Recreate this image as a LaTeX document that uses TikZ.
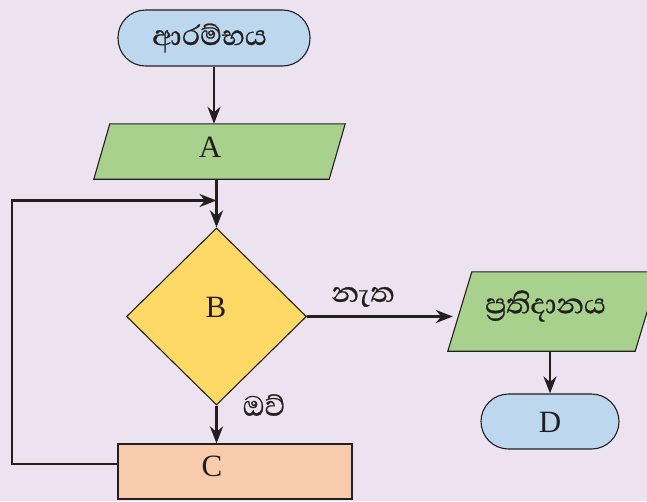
\documentclass[tikz,border=0pt]{standalone}
\usepackage{fontspec}
\setmainfont{Liberation Serif}
\newfontfamily\sinhalafont[Script=Sinhala, FakeBold=0.6]{Abhaya Libre}
\usetikzlibrary{shapes.geometric,arrows.meta}
\definecolor{bgc}{RGB}{237,226,239}
\definecolor{linec}{RGB}{35,31,32}
\definecolor{bluef}{RGB}{189,215,238}
\definecolor{greenf}{RGB}{169,209,142}
\definecolor{yellowf}{RGB}{255,217,102}
\definecolor{peachf}{RGB}{248,203,173}
\begin{document}
\begin{tikzpicture}[x=1pt,y=-1pt,
  base/.style={draw=linec, line width=1.1pt, inner sep=0pt},
  term/.style={base, fill=bluef, rounded corners=27.5pt},
  iobox/.style={inner sep=0pt, draw=none},
  iopoly/.style={draw=linec, line width=1.1pt, fill=greenf},
  dec/.style={base, diamond, fill=yellowf},
  proc/.style={base, rectangle, fill=peachf},
  ltr/.style={text=linec, inner sep=0pt, font=\fontsize{31}{31}\selectfont},
  sin/.style={text=linec, inner sep=0pt, font=\sinhalafont\fontsize{36}{36}\selectfont},
  arr/.style={draw=linec, line width=2.8pt, -{Stealth[length=17pt,width=13pt]}}]
\fill[bgc] (0,0) rectangle (647,501);
\useasboundingbox (0,0) rectangle (647,501);
\clip (0,0) rectangle (647,501);
% shapes
\node[term, minimum width=192pt, minimum height=56pt] (S) at (214,38) {};
\node[iobox, minimum width=251pt, minimum height=55pt] (A) at (219.5,151.5) {};
\draw[iopoly] ([xshift=16pt]A.north west) -- (A.north east) -- ([xshift=-16pt]A.south east) -- (A.south west) -- cycle;
\node[dec, minimum width=180pt, minimum height=177pt] (B) at (216.5,316.5) {};
\node[proc, minimum width=234pt, minimum height=55pt] (C) at (235,471.5) {};
\node[iobox, minimum width=211pt, minimum height=79pt] (O) at (553.5,311.5) {};
\draw[iopoly] ([xshift=24pt]O.north west) -- (O.north east) -- ([xshift=-24pt]O.south east) -- (O.south west) -- cycle;
\node[term, minimum width=138pt, minimum height=55pt] (D) at (550,421.5) {};
% texts
\node[sin] (tS) at (209.5,38) {ආරම්භය};
\node[ltr] (tA) at (210,147.5) {A};
\node[ltr] (tB) at (216,307) {B};
\node[ltr] (tC) at (212,466) {C};
\node[sin] (tO) at (545.5,306) {ප්‍රතිදානය};
\node[ltr] (tD) at (550,422.5) {D};
\node[sin] (no) at (363,297) {නැත};
\node[sin] (yes) at (264,405) {ඔව්};
% connectors
\coordinate (lc) at (12,464);
\coordinate (j) at (216.5,200.5);
\draw[arr] (S.south) -- (S.south |- A.north);
\draw[arr] (A.south -| B.north) -- (B.north);
\draw[arr] (C.west |- lc) -- (lc) |- (j);
\draw[arr] (B.south) -- (B.south |- C.north);
\draw[arr] (B.east) -- ([xshift=5pt]B.east -| O.west);
\draw[arr] (D.north |- O.south) -- (D.north);
\end{tikzpicture}
\end{document}
